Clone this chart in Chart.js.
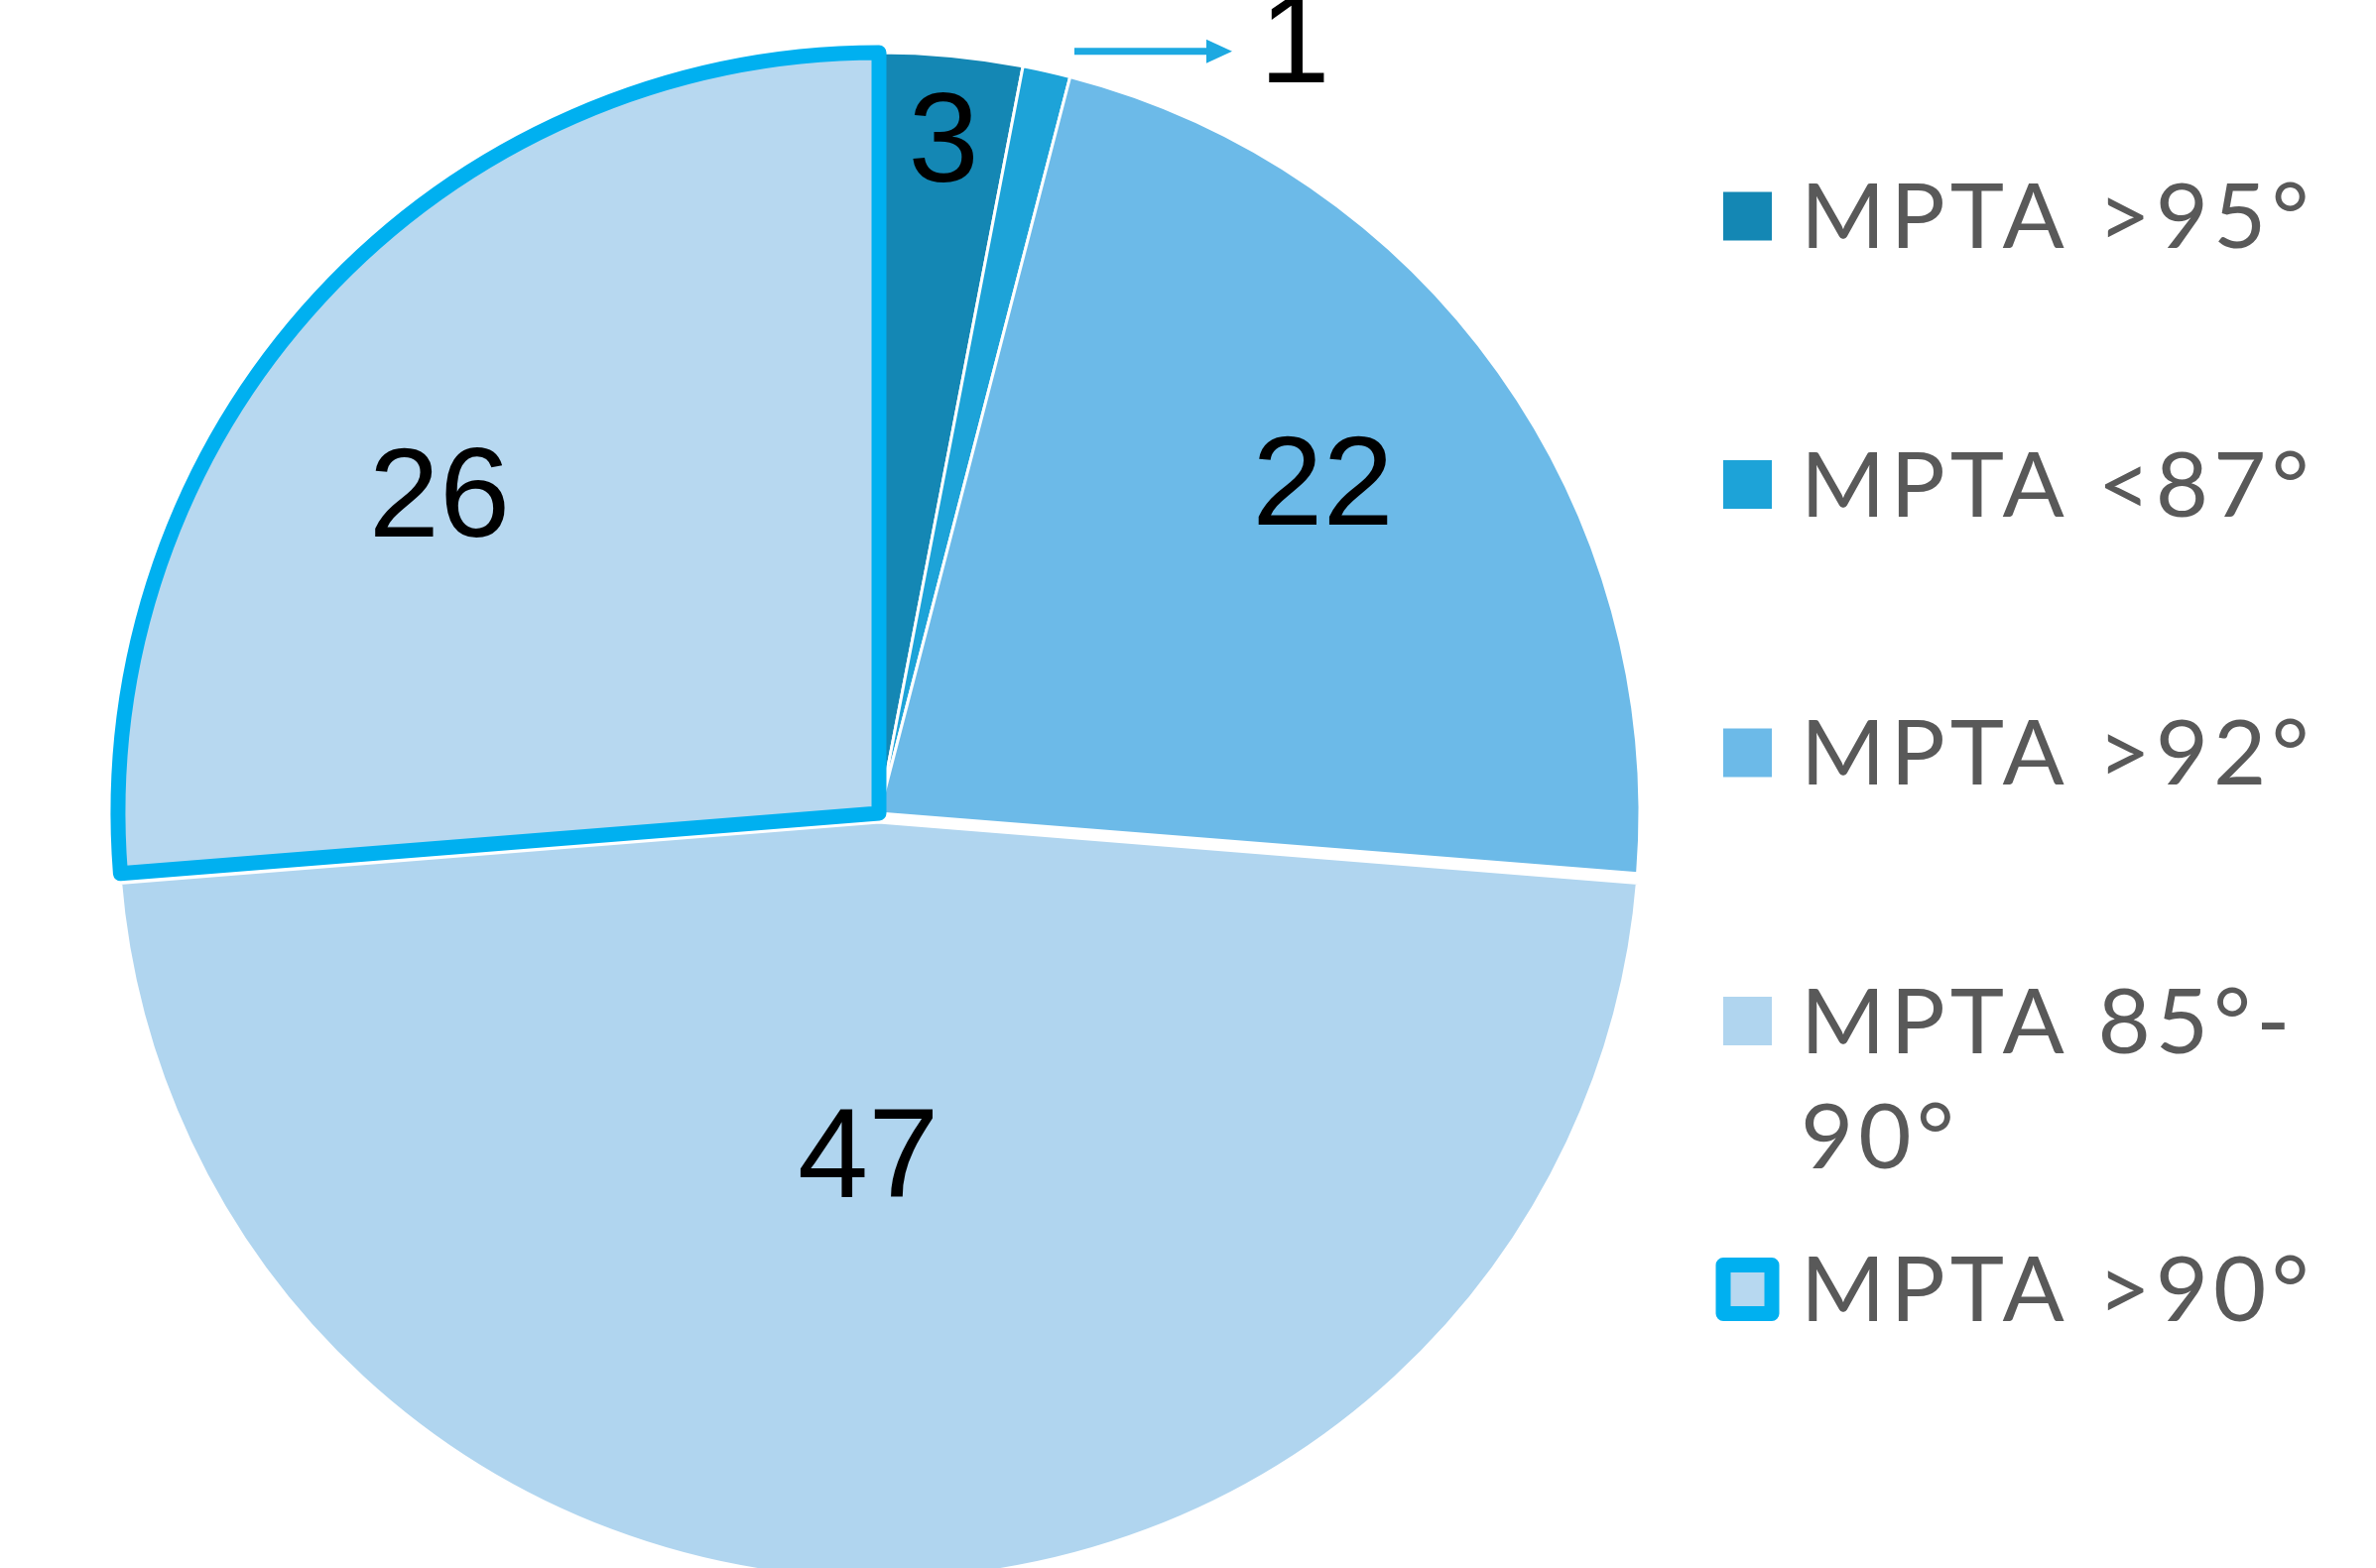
<!DOCTYPE html>
<html>
<head>
<meta charset="utf-8">
<title>MPTA</title>
<script src="https://cdn.jsdelivr.net/npm/chart.js@4.4.1/dist/chart.umd.min.js"></script>
<style>
  html, body { margin: 0; padding: 0; background: #fff; overflow: hidden; }
  #wrap { width: 2395px; height: 1581px; }
</style>
</head>
<body>
<div id="wrap"><canvas id="pie" width="2395" height="1581"></canvas></div>
<script>
// data
const labels = ['MPTA >95°', 'MPTA <87°', 'MPTA >92°', 'MPTA 85°-90°', 'MPTA >90°'];
const counts = [3, 1, 22, 47, 26];
// legend text, item 4 wraps onto two lines
const legendLines = [['MPTA >95°'], ['MPTA <87°'], ['MPTA >92°'], ['MPTA 85°-', '90°'], ['MPTA >90°']];

// look
const fills = ['#1487b4', '#1da3d8', '#6cbae8', '#b0d5ef', '#b7d8f0'];
const edgeColors = ['#ffffff', '#ffffff', '#ffffff', '#ffffff', '#00b0f0'];
// the 47 slice is pulled out a little; its wider white edge keeps the rim level with the others
const edgeWidths = [3, 3, 3, 11, 15];
const slideOut = [0, 0, 0, 20, 0];
// where each value label sits: fraction of radius + angle nudge (deg); null = callout
const labelPlace = [[0.894, 0], null, [0.73, -1.5], [0.445, 1.8], [0.716, -6.5]];
const LEG = { x: 1737, box: 49, top: 218, step: 270.5, textX: 1815, base: 32, line: 116 };

/* value labels inside slices + arrow callout for the small one */
const sliceLabels = {
  id: 'sliceLabels',
  afterDatasetsDraw(chart) {
    const ctx = chart.ctx;
    const arcs = chart.getDatasetMeta(0).data;
    const vals = chart.data.datasets[0].data;
    ctx.save();
    ctx.font = '128px "Liberation Sans", Arial, sans-serif';
    ctx.fillStyle = '#000';
    ctx.textAlign = 'center';
    ctx.textBaseline = 'alphabetic';
    const capHalf = 128 * 0.716 / 2;
    arcs.forEach((arc, i) => {
      const p = arc.getProps(['x', 'y', 'startAngle', 'endAngle', 'outerRadius'], true);
      const mid = (p.startAngle + p.endAngle) / 2;
      const place = labelPlace[i];
      if (place) {
        const a = mid + place[1] * Math.PI / 180;
        const lx = p.x + Math.cos(a) * p.outerRadius * place[0];
        const ly = p.y + Math.sin(a) * p.outerRadius * place[0];
        ctx.fillText(String(vals[i]), lx, ly + capHalf);
      } else {
        // callout: horizontal arrow going right from the slice's rim
        const ax = p.x + Math.cos(mid) * p.outerRadius + 28;
        const ay = p.y + Math.sin(mid) * p.outerRadius - 20;
        const len = 159;
        ctx.strokeStyle = '#1da9e1';
        ctx.fillStyle = '#1da9e1';
        ctx.lineWidth = 7;
        ctx.beginPath();
        ctx.moveTo(ax, ay);
        ctx.lineTo(ax + len - 20, ay);
        ctx.stroke();
        ctx.beginPath();
        ctx.moveTo(ax + len - 26, ay - 12);
        ctx.lineTo(ax + len, ay);
        ctx.lineTo(ax + len - 26, ay + 12);
        ctx.closePath();
        ctx.fill();
        ctx.fillStyle = '#000';
        ctx.fillText(String(vals[i]), ax + len + 63, ay - 15 + capHalf);
      }
    });
    ctx.restore();
  }
};

/* legend on the right, drawn by hand to allow the wrapped item */
const sideLegend = {
  id: 'sideLegend',
  afterDraw(chart) {
    const ctx = chart.ctx;
    const ds = chart.data.datasets[0];
    ctx.save();
    ctx.font = '92px Lato, "Noto Sans", sans-serif';
    ctx.letterSpacing = '5px';
    ctx.textBaseline = 'alphabetic';
    ctx.textAlign = 'left';
    legendLines.forEach((lines, i) => {
      const cy = LEG.top + i * LEG.step;
      const s = LEG.box;
      ctx.fillStyle = ds.backgroundColor[i];
      ctx.fillRect(LEG.x, cy - s / 2, s, s);
      if (ds.borderColor[i] !== '#ffffff') {
        ctx.strokeStyle = ds.borderColor[i];
        ctx.lineWidth = ds.borderWidth[i];
        ctx.lineJoin = 'round';
        ctx.strokeRect(LEG.x, cy - s / 2, s, s);
      }
      ctx.fillStyle = '#595959';
      lines.forEach((t, j) => ctx.fillText(t, LEG.textX, cy + LEG.base + j * LEG.line));
    });
    ctx.restore();
  }
};

new Chart(document.getElementById('pie'), {
  type: 'pie',
  data: {
    labels: labels,
    datasets: [{
      data: counts,
      backgroundColor: fills,
      borderColor: edgeColors,
      borderWidth: edgeWidths,
      borderJoinStyle: 'round',
      offset: slideOut,
      hoverOffset: 0,
      radius: 767
    }]
  },
  options: {
    responsive: false,
    animation: false,
    layout: { padding: { left: 0, right: 623, top: 59, bottom: 0 } },
    plugins: { legend: { display: false }, tooltip: { enabled: false } }
  },
  plugins: [sliceLabels, sideLegend]
});
</script>
</body>
</html>
